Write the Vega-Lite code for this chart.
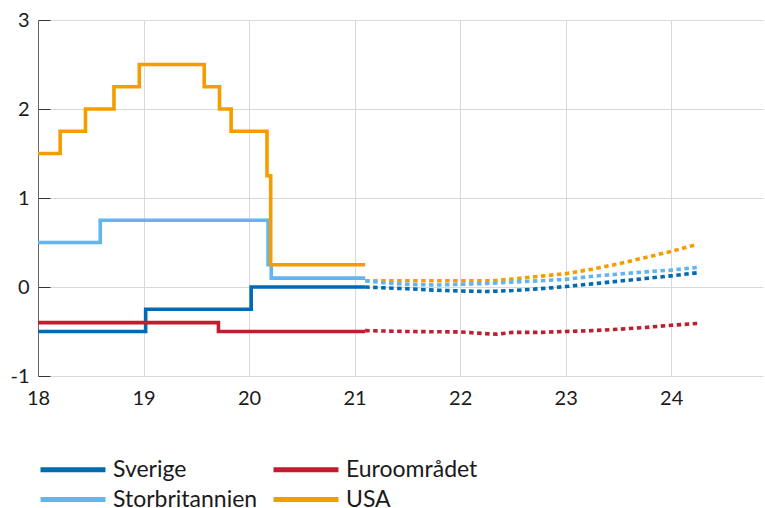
{
  "$schema": "https://vega.github.io/schema/vega-lite/v6.json",
  "width": 725,
  "height": 356,
  "autosize": {"type": "none"},
  "padding": {"left": 38, "top": 20, "right": 2, "bottom": 132},
  "config": {
    "view": {"stroke": null},
    "font": "Lato",
    "axis": {"labelColor": "#1a1a1a", "labelFont": "Lato", "gridColor": "#d9d9d9", "gridWidth": 1, "title": null}
  },
  "data": {
    "values": [
      {"land": "Sverige", "typ": "utfall", "t": 18, "v": -0.5},
      {"land": "Sverige", "typ": "utfall", "t": 19.02, "v": -0.25},
      {"land": "Sverige", "typ": "utfall", "t": 20.02, "v": 0},
      {"land": "Sverige", "typ": "utfall", "t": 21.1, "v": 0},
      {"land": "Euroområdet", "typ": "utfall", "t": 18, "v": -0.4},
      {"land": "Euroområdet", "typ": "utfall", "t": 19.71, "v": -0.5},
      {"land": "Euroområdet", "typ": "utfall", "t": 21.1, "v": -0.5},
      {"land": "Storbritannien", "typ": "utfall", "t": 18, "v": 0.5},
      {"land": "Storbritannien", "typ": "utfall", "t": 18.59, "v": 0.75},
      {"land": "Storbritannien", "typ": "utfall", "t": 20.18, "v": 0.25},
      {"land": "Storbritannien", "typ": "utfall", "t": 20.21, "v": 0.1},
      {"land": "Storbritannien", "typ": "utfall", "t": 21.1, "v": 0.1},
      {"land": "USA", "typ": "utfall", "t": 18, "v": 1.5},
      {"land": "USA", "typ": "utfall", "t": 18.21, "v": 1.75},
      {"land": "USA", "typ": "utfall", "t": 18.45, "v": 2.0},
      {"land": "USA", "typ": "utfall", "t": 18.72, "v": 2.25},
      {"land": "USA", "typ": "utfall", "t": 18.96, "v": 2.5},
      {"land": "USA", "typ": "utfall", "t": 19.575, "v": 2.25},
      {"land": "USA", "typ": "utfall", "t": 19.72, "v": 2.0},
      {"land": "USA", "typ": "utfall", "t": 19.83, "v": 1.75},
      {"land": "USA", "typ": "utfall", "t": 20.17, "v": 1.25},
      {"land": "USA", "typ": "utfall", "t": 20.205, "v": 0.25},
      {"land": "USA", "typ": "utfall", "t": 21.1, "v": 0.25},

      {"land": "USA", "typ": "prognos", "t": 21.1, "v": 0.07},
      {"land": "USA", "typ": "prognos", "t": 21.5, "v": 0.07},
      {"land": "USA", "typ": "prognos", "t": 22.0, "v": 0.07},
      {"land": "USA", "typ": "prognos", "t": 22.3, "v": 0.07},
      {"land": "USA", "typ": "prognos", "t": 22.5, "v": 0.09},
      {"land": "USA", "typ": "prognos", "t": 22.75, "v": 0.12},
      {"land": "USA", "typ": "prognos", "t": 23.0, "v": 0.15},
      {"land": "USA", "typ": "prognos", "t": 23.25, "v": 0.2},
      {"land": "USA", "typ": "prognos", "t": 23.5, "v": 0.26},
      {"land": "USA", "typ": "prognos", "t": 23.75, "v": 0.33},
      {"land": "USA", "typ": "prognos", "t": 24.0, "v": 0.4},
      {"land": "USA", "typ": "prognos", "t": 24.25, "v": 0.48},

      {"land": "Storbritannien", "typ": "prognos", "t": 21.1, "v": 0.07},
      {"land": "Storbritannien", "typ": "prognos", "t": 21.3, "v": 0.045},
      {"land": "Storbritannien", "typ": "prognos", "t": 21.5, "v": 0.03},
      {"land": "Storbritannien", "typ": "prognos", "t": 21.75, "v": 0.022},
      {"land": "Storbritannien", "typ": "prognos", "t": 22.0, "v": 0.03},
      {"land": "Storbritannien", "typ": "prognos", "t": 22.25, "v": 0.04},
      {"land": "Storbritannien", "typ": "prognos", "t": 22.5, "v": 0.055},
      {"land": "Storbritannien", "typ": "prognos", "t": 22.75, "v": 0.07},
      {"land": "Storbritannien", "typ": "prognos", "t": 23.0, "v": 0.086},
      {"land": "Storbritannien", "typ": "prognos", "t": 23.25, "v": 0.12},
      {"land": "Storbritannien", "typ": "prognos", "t": 23.5, "v": 0.145},
      {"land": "Storbritannien", "typ": "prognos", "t": 23.75, "v": 0.17},
      {"land": "Storbritannien", "typ": "prognos", "t": 24.0, "v": 0.19},
      {"land": "Storbritannien", "typ": "prognos", "t": 24.25, "v": 0.22},

      {"land": "Sverige", "typ": "prognos", "t": 21.1, "v": 0.0},
      {"land": "Sverige", "typ": "prognos", "t": 21.5, "v": -0.02},
      {"land": "Sverige", "typ": "prognos", "t": 21.75, "v": -0.035},
      {"land": "Sverige", "typ": "prognos", "t": 22.0, "v": -0.045},
      {"land": "Sverige", "typ": "prognos", "t": 22.25, "v": -0.05},
      {"land": "Sverige", "typ": "prognos", "t": 22.5, "v": -0.04},
      {"land": "Sverige", "typ": "prognos", "t": 22.75, "v": -0.02},
      {"land": "Sverige", "typ": "prognos", "t": 23.0, "v": 0.005},
      {"land": "Sverige", "typ": "prognos", "t": 23.25, "v": 0.035},
      {"land": "Sverige", "typ": "prognos", "t": 23.5, "v": 0.065},
      {"land": "Sverige", "typ": "prognos", "t": 23.75, "v": 0.095},
      {"land": "Sverige", "typ": "prognos", "t": 24.0, "v": 0.125},
      {"land": "Sverige", "typ": "prognos", "t": 24.25, "v": 0.16},

      {"land": "Euroområdet", "typ": "prognos", "t": 21.1, "v": -0.49},
      {"land": "Euroområdet", "typ": "prognos", "t": 21.5, "v": -0.5},
      {"land": "Euroområdet", "typ": "prognos", "t": 22.0, "v": -0.505},
      {"land": "Euroområdet", "typ": "prognos", "t": 22.25, "v": -0.525},
      {"land": "Euroområdet", "typ": "prognos", "t": 22.35, "v": -0.53},
      {"land": "Euroområdet", "typ": "prognos", "t": 22.5, "v": -0.51},
      {"land": "Euroområdet", "typ": "prognos", "t": 22.75, "v": -0.51},
      {"land": "Euroområdet", "typ": "prognos", "t": 23.0, "v": -0.5},
      {"land": "Euroområdet", "typ": "prognos", "t": 23.25, "v": -0.49},
      {"land": "Euroområdet", "typ": "prognos", "t": 23.5, "v": -0.475},
      {"land": "Euroområdet", "typ": "prognos", "t": 23.75, "v": -0.455},
      {"land": "Euroområdet", "typ": "prognos", "t": 24.0, "v": -0.43},
      {"land": "Euroområdet", "typ": "prognos", "t": 24.25, "v": -0.41}
    ]
  },
  "encoding": {
    "x": {
      "field": "t", "type": "quantitative",
      "scale": {"domain": [18, 24.87], "nice": false, "zero": false},
      "axis": {"values": [18, 19, 20, 21, 22, 23, 24], "grid": true, "domain": false, "ticks": false, "labelFontSize": 20, "labelPadding": 12, "labelExpr": "toString(datum.value)", "labelFlush": false}
    },
    "y": {
      "field": "v", "type": "quantitative",
      "scale": {"domain": [-1, 3], "nice": false, "zero": false},
      "axis": {"values": [-1, 0, 1, 2, 3], "grid": true, "domain": true, "domainColor": "#666666", "ticks": true, "tickColor": "#333333", "tickSize": -12, "labelFontSize": 20, "labelPadding": 21, "labelExpr": "toString(datum.value)", "labelFlush": false}
    },
    "color": {
      "field": "land", "type": "nominal",
      "scale": {"domain": ["Sverige", "Euroområdet", "Storbritannien", "USA"], "range": ["#006ab3", "#be1e2d", "#62b5f0", "#f59c00"]},
      "legend": {
        "title": null, "orient": "none", "legendX": 0, "legendY": 432, "direction": "horizontal", "columns": 2,
        "symbolType": "M-1,0H3.333", "symbolSize": 900, "symbolStrokeWidth": 5, "symbolDash": [1, 0],
        "labelFontSize": 23, "labelFont": "Lato", "labelColor": "#1a1a1a", "labelOffset": 40,
        "columnPadding": 5, "rowPadding": 0, "padding": 0, "labelLimit": 300
      }
    }
  },
  "layer": [
    {
      "transform": [{"filter": "datum.typ === 'utfall'"}],
      "mark": {"type": "line", "interpolate": "step-after", "strokeWidth": 3.6}
    },
    {
      "transform": [{"filter": "datum.typ === 'prognos'"}],
      "mark": {"type": "line", "strokeWidth": 3.6, "strokeDash": [4.5, 3.5]}
    }
  ]
}
